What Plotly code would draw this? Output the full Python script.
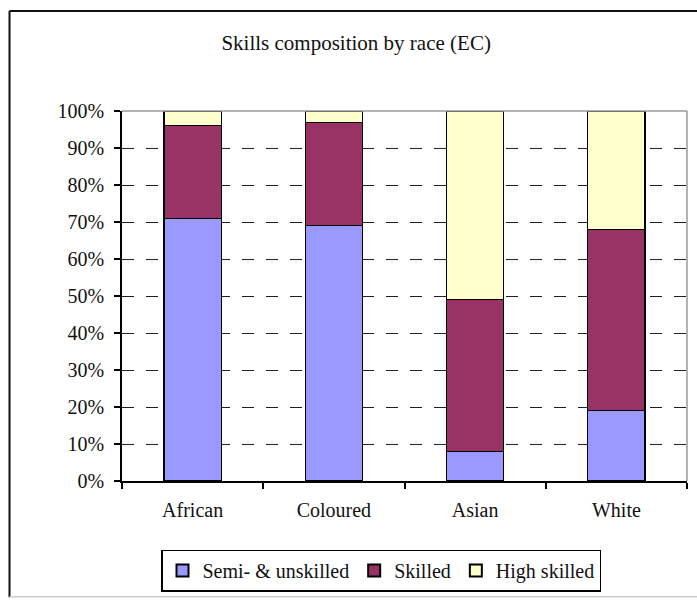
import plotly.graph_objects as go

# Share of each skill level within each population group (percent)
races = ["African", "Coloured", "Asian", "White"]
semi_unskilled = [71, 69, 8, 19]
skilled = [25, 28, 41, 49]
high_skilled = [4, 3, 51, 32]

series_names = ["Semi- & unskilled", "Skilled", "High skilled"]
series_colors = ["#9999FF", "#993366", "#FFFFCC"]
y_ticks = [0, 10, 20, 30, 40, 50, 60, 70, 80, 90, 100]

FONT = "Liberation Serif"

W, H = 697, 601
L, R, T, B = 122, 10, 111, 118
pw = W - L - R
ph = H - T - B


def px_x(x):
    return (x - L) / pw


def px_y(y):
    return (H - B - y) / ph


fig = go.Figure()
for name, vals, col in zip(series_names, [semi_unskilled, skilled, high_skilled], series_colors):
    fig.add_trace(go.Bar(
        x=races, y=vals, name=name,
        marker=dict(color=col, line=dict(color="#000000", width=1.2)),
    ))

fig.update_layout(
    width=W, height=H,
    margin=dict(l=L, r=R, t=T, b=B),
    barmode="stack",
    bargap=0.595,
    paper_bgcolor="white",
    plot_bgcolor="white",
    font=dict(family=FONT, size=20, color="#111111"),
    title=dict(
        text="Skills composition by race (EC)",
        x=0.511, xref="container", xanchor="center",
        y=1 - 43 / H, yref="container", yanchor="middle",
        font=dict(family=FONT, size=21, color="#111111"),
    ),
    showlegend=True,
    legend=dict(
        orientation="h",
        x=px_x(381), xanchor="center",
        y=px_y(573), yanchor="middle",
        bordercolor="#000000", borderwidth=1.5,
        bgcolor="white",
        font=dict(family=FONT, size=20, color="#111111"),
        itemsizing="constant",
        traceorder="normal",
    ),
    xaxis=dict(
        showline=True, linecolor="#000000", linewidth=1.5,
        ticks="outside", ticklen=6, tickcolor="#000000", tickwidth=1.5,
        tickson="boundaries",
        showgrid=False,
        ticklabelstandoff=10,
        tickfont=dict(family=FONT, size=20, color="#111111"),
    ),
    yaxis=dict(
        range=[0, 100],
        tickvals=y_ticks,
        ticktext=[f"{v}%" for v in y_ticks],
        showline=True, linecolor="#000000", linewidth=1.5,
        ticks="outside", ticklen=6, tickcolor="#000000", tickwidth=1.5,
        showgrid=True, gridcolor="#222222", gridwidth=1.2,
        griddash="12px,12px",
        zeroline=False,
        ticklabelstandoff=6,
        tickfont=dict(family=FONT, size=20, color="#111111"),
    ),
)

# Plot-area border on the top and right sides
fig.add_shape(type="line", xref="paper", yref="paper",
              x0=0, x1=1, y0=1, y1=1, line=dict(color="#9a9a9a", width=1.5), layer="above")
fig.add_shape(type="line", xref="paper", yref="paper",
              x0=1, x1=1, y0=0, y1=1, line=dict(color="#9a9a9a", width=1.5), layer="above")

# Outer chart frame
fig.add_shape(type="line", xref="paper", yref="paper",
              x0=px_x(9.5), x1=px_x(9.5), y0=px_y(600), y1=px_y(10.5),
              line=dict(color="#111111", width=2))
fig.add_shape(type="line", xref="paper", yref="paper",
              x0=px_x(9.5), x1=px_x(700), y0=px_y(10.5), y1=px_y(10.5),
              line=dict(color="#111111", width=2))
fig.add_shape(type="line", xref="paper", yref="paper",
              x0=px_x(9.5), x1=px_x(700), y0=px_y(599.5), y1=px_y(599.5),
              line=dict(color="#cccccc", width=1.5))

fig.write_html("out.html")
